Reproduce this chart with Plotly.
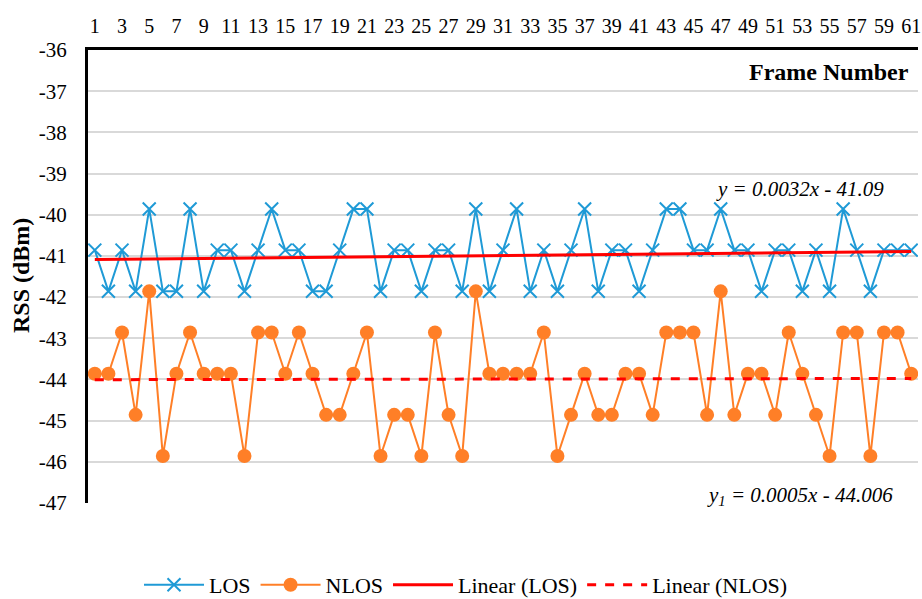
import plotly.graph_objects as go

frames = list(range(1, 62))

los = [-40.86, -41.86, -40.86, -41.86, -39.86, -41.86, -41.86, -39.86, -41.86, -40.86,
       -40.86, -41.86, -40.86, -39.86, -40.86, -40.86, -41.86, -41.86, -40.86, -39.86,
       -39.86, -41.86, -40.86, -40.86, -41.86, -40.86, -40.86, -41.86, -39.86, -41.86,
       -40.86, -39.86, -41.86, -40.86, -41.86, -40.86, -39.86, -41.86, -40.86, -40.86,
       -41.86, -40.86, -39.86, -39.86, -40.86, -40.86, -39.86, -40.86, -40.86, -41.86,
       -40.86, -40.86, -41.86, -40.86, -41.86, -39.86, -40.86, -41.86, -40.86, -40.86,
       -40.86]

nlos = [-43.86, -43.86, -42.86, -44.86, -41.86, -45.86, -43.86, -42.86, -43.86, -43.86,
        -43.86, -45.86, -42.86, -42.86, -43.86, -42.86, -43.86, -44.86, -44.86, -43.86,
        -42.86, -45.86, -44.86, -44.86, -45.86, -42.86, -44.86, -45.86, -41.86, -43.86,
        -43.86, -43.86, -43.86, -42.86, -45.86, -44.86, -43.86, -44.86, -44.86, -43.86,
        -43.86, -44.86, -42.86, -42.86, -42.86, -44.86, -41.86, -44.86, -43.86, -43.86,
        -44.86, -42.86, -43.86, -44.86, -45.86, -42.86, -42.86, -45.86, -42.86, -42.86,
        -43.86]

los_slope, los_intercept = 0.0032, -41.09
nlos_slope, nlos_intercept = 0.0005, -44.006

trend_x = [frames[0], frames[-1]]
los_trend = [los_slope * x + los_intercept for x in trend_x]
nlos_trend = [nlos_slope * x + nlos_intercept for x in trend_x]

x_ticks = list(range(1, 62, 2))
y_ticks = list(range(-36, -48, -1))
y_ticktext = [str(v) for v in y_ticks]

FONT = "Times New Roman, Liberation Serif, DejaVu Serif, serif"
BLUE = "#1f9ad6"
ORANGE = "#ff7f27"

fig = go.Figure()
fig.add_trace(go.Scatter(
    x=frames, y=los, mode="lines+markers", name="LOS",
    line=dict(color=BLUE, width=2),
    marker=dict(symbol="x-thin", size=13, line=dict(color=BLUE, width=2), color=BLUE),
))
fig.add_trace(go.Scatter(
    x=frames, y=nlos, mode="lines+markers", name="NLOS",
    line=dict(color=ORANGE, width=2),
    marker=dict(symbol="circle", size=14, color=ORANGE),
))
fig.add_trace(go.Scatter(
    x=trend_x, y=los_trend, mode="lines", name="Linear (LOS)",
    line=dict(color="#ff0000", width=3),
))
fig.add_trace(go.Scatter(
    x=trend_x, y=nlos_trend, mode="lines", name="Linear (NLOS)",
    line=dict(color="#ff0000", width=3, dash="dash"),
))

PL, PR, PT, PB = 88, 4, 50, 96
PW, PH = 922 - PL - PR, 599 - PT - PB

def px(xp):
    return (xp - PL) / PW

def py(yp):
    return (599 - PB - yp) / PH

fig.update_layout(
    width=922, height=599,
    margin=dict(l=PL, r=PR, t=PT, b=PB, autoexpand=False),
    paper_bgcolor="white", plot_bgcolor="white",
    font=dict(family=FONT, color="black", size=20),
    showlegend=True,
    legend=dict(
        orientation="h", x=px(466), xanchor="center", y=py(585), yanchor="middle",
        font=dict(family=FONT, size=22, color="black"),
        itemwidth=60, traceorder="normal",
    ),
    xaxis=dict(
        side="top", range=[0.5, 61.5], tickvals=x_ticks,
        showgrid=False, zeroline=False, showline=True, linecolor="black", linewidth=2.5,
        ticks="", tickfont=dict(family=FONT, size=20, color="black"),
        ticklabelstandoff=6,
    ),
    yaxis=dict(
        range=[-47, -36], tickvals=y_ticks, ticktext=y_ticktext,
        showgrid=True, gridcolor="#d9d9d9", gridwidth=1.5,
        zeroline=False, showline=True, linecolor="black", linewidth=3,
        ticks="", tickfont=dict(family=FONT, size=21, color="black"),
        ticklabelstandoff=14,
    ),
    annotations=[
        dict(text="<b>Frame Number</b>", xref="paper", yref="paper",
             x=px(911), y=py(72), xanchor="right", yanchor="middle",
             showarrow=False, font=dict(family=FONT, size=24, color="black")),
        dict(text="<b>RSS (dBm)</b>", xref="paper", yref="paper",
             x=px(21), y=py(276), xanchor="center", yanchor="middle", textangle=-90,
             showarrow=False, font=dict(family=FONT, size=24, color="black")),
        dict(text="<i>y = 0.0032x - 41.09</i>", xref="paper", yref="paper",
             x=px(800), y=py(189), xanchor="center", yanchor="middle",
             showarrow=False, font=dict(family=FONT, size=21, color="black")),
        dict(text="<i>y<sub>1</sub> = 0.0005x - 44.006</i>", xref="paper", yref="paper",
             x=px(800), y=py(496), xanchor="center", yanchor="middle",
             showarrow=False, font=dict(family=FONT, size=21, color="black")),
    ],
)

fig.write_html("out.html")
